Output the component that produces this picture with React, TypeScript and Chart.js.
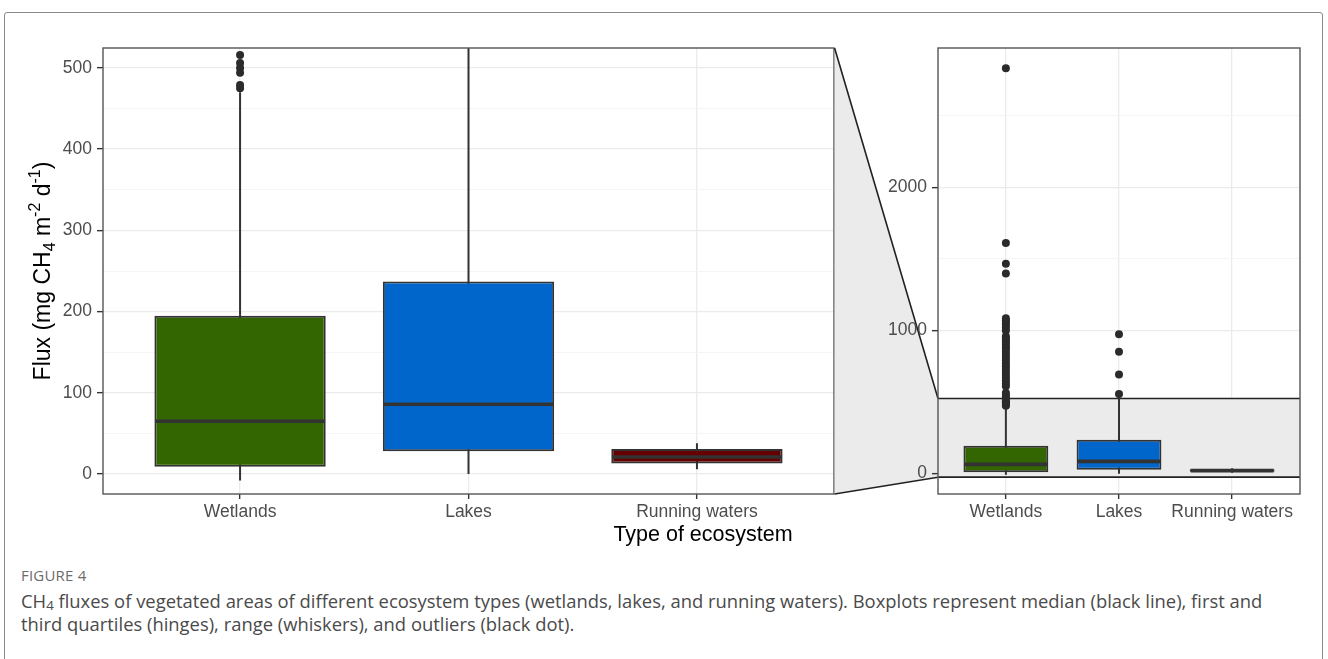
import React, { useEffect, useRef } from 'react';
import { Chart, registerables } from 'chart.js';

Chart.register(...registerables);

// ---------------- data ----------------
const categories = ['Wetlands', 'Lakes', 'Running waters'];
const categoryIndex = [0, 1, 2];
const boxLower = [9, 28, 13];
const boxUpper = [195, 237, 31];
const medians = [65, 86, 21];
const whiskerLow = [-8, 0, 6];
const whiskerHigh = [470, 536, 38];
const boxColors = ['#336600', '#0066CC', '#660000'];

const wetlandOutliers = [
  475, 479, 494, 500, 506, 516, 535, 550, 565, 610, 630, 650, 670, 690, 710, 730, 750,
  770, 790, 810, 830, 850, 870, 885, 900, 915, 930, 945, 960, 1000, 1020, 1040, 1055,
  1070, 1085, 1397, 1466, 1610, 2830,
];
const lakeOutliers = [557, 693, 851, 974];
const runningOutliers: number[] = [];

const leftRange = [-24.5, 524.5];
const leftMajorTicks = [0, 100, 200, 300, 400, 500];
const leftMinorTicks = [50, 150, 250, 350, 450];
const rightRange = [-142, 2972];
const rightMajorTicks = [0, 1000, 2000];
const rightMinorTicks = [500, 1500, 2500];
const xRange = [-0.6, 2.6];

const xTitleText = 'Type of ecosystem';

const FONT = '"Liberation Sans", Arial, Helvetica, sans-serif';

// ---------------- plugin ----------------
const boxExtras = {
  id: 'boxExtras',
  beforeDraw(chart: any, _a: any, opts: any) {
    if (!opts.connector) return;
    const { ctx, chartArea, scales } = chart;
    const y = scales.y;
    const x0 = opts.connectorX;
    const yTop = y.getPixelForValue(leftRange[1]);
    const yBot = y.getPixelForValue(leftRange[0]);
    ctx.save();
    ctx.beginPath();
    ctx.moveTo(x0, chartArea.top);
    ctx.lineTo(chartArea.left, yTop);
    ctx.lineTo(chartArea.left, yBot);
    ctx.lineTo(x0, chartArea.bottom);
    ctx.closePath();
    ctx.fillStyle = '#ebebeb';
    ctx.fill();
    ctx.strokeStyle = '#222';
    ctx.lineWidth = 1.6;
    ctx.beginPath();
    ctx.moveTo(x0, chartArea.top);
    ctx.lineTo(chartArea.left, yTop);
    ctx.moveTo(x0, chartArea.bottom);
    ctx.lineTo(chartArea.left, yBot);
    ctx.stroke();
    ctx.restore();
  },
  beforeDatasetsDraw(chart: any, _a: any, opts: any) {
    const { ctx, chartArea, scales } = chart;
    const { x, y } = scales;
    ctx.save();
    ctx.beginPath();
    ctx.rect(chartArea.left, chartArea.top, chartArea.width, chartArea.height);
    ctx.clip();
    if (opts.zoomBand) {
      const yTop = y.getPixelForValue(leftRange[1]);
      const yBot = y.getPixelForValue(leftRange[0]);
      ctx.fillStyle = '#ebebeb';
      ctx.fillRect(chartArea.left, yTop, chartArea.width, yBot - yTop);
      ctx.strokeStyle = '#222';
      ctx.lineWidth = 1.6;
      ctx.beginPath();
      ctx.moveTo(chartArea.left, yTop);
      ctx.lineTo(chartArea.right, yTop);
      ctx.moveTo(chartArea.left, yBot);
      ctx.lineTo(chartArea.right, yBot);
      ctx.stroke();
    }
    ctx.strokeStyle = '#333';
    ctx.lineWidth = 2;
    categoryIndex.forEach((c, i) => {
      const px = x.getPixelForValue(c);
      ctx.beginPath();
      ctx.moveTo(px, y.getPixelForValue(whiskerLow[i]));
      ctx.lineTo(px, y.getPixelForValue(whiskerHigh[i]));
      ctx.stroke();
    });
    ctx.restore();
  },
  afterDatasetsDraw(chart: any) {
    const { ctx, chartArea, scales } = chart;
    const { y } = scales;
    const meta = chart.getDatasetMeta(1);
    ctx.save();
    ctx.beginPath();
    ctx.rect(chartArea.left, chartArea.top, chartArea.width, chartArea.height);
    ctx.clip();
    ctx.strokeStyle = '#333';
    ctx.lineWidth = 3.6;
    meta.data.forEach((bar: any, i: number) => {
      const half = bar.width / 2 - 1;
      const py = y.getPixelForValue(medians[i]);
      ctx.beginPath();
      ctx.moveTo(bar.x - half, py);
      ctx.lineTo(bar.x + half, py);
      ctx.stroke();
    });
    ctx.restore();
    ctx.save();
    ctx.strokeStyle = '#555';
    ctx.lineWidth = 1.4;
    ctx.strokeRect(chartArea.left, chartArea.top, chartArea.width, chartArea.height);
    ctx.restore();
  },
  afterDraw(chart: any, _a: any, opts: any) {
    const { ctx, chartArea } = chart;
    if (opts.xTitle) {
      ctx.save();
      ctx.font = `21.5px ${FONT}`;
      ctx.fillStyle = '#000';
      ctx.textAlign = 'center';
      ctx.textBaseline = 'alphabetic';
      ctx.fillText(xTitleText, opts.xTitleX, opts.xTitleY);
      ctx.restore();
    }
    if (!opts.yTitle) return;
    const big = 23;
    const small = 16;
    const parts = [
      { t: 'Flux (mg CH', s: big, dy: 0 },
      { t: '4', s: small, dy: 5 },
      { t: ' m', s: big, dy: 0 },
      { t: '-2', s: small, dy: -10 },
      { t: ' d', s: big, dy: 0 },
      { t: '-1', s: small, dy: -10 },
      { t: ')', s: big, dy: 0 },
    ];
    ctx.save();
    let total = 0;
    parts.forEach((p) => {
      ctx.font = `${p.s}px ${FONT}`;
      total += ctx.measureText(p.t).width;
    });
    ctx.translate(opts.yTitleX, (chartArea.top + chartArea.bottom) / 2);
    ctx.rotate(-Math.PI / 2);
    ctx.fillStyle = '#000';
    ctx.textBaseline = 'alphabetic';
    ctx.textAlign = 'left';
    let cx = -total / 2;
    parts.forEach((p) => {
      ctx.font = `${p.s}px ${FONT}`;
      ctx.fillText(p.t, cx, p.dy);
      cx += ctx.measureText(p.t).width;
    });
    ctx.restore();
  },
};

// ---------------- chart builder ----------------
function buildConfig(opts: {
  range: number[];
  major: number[];
  minor: number[];
  yAxisWidth: number;
  padRight: number;
  plugin: any;
}) {
  const allTicks = [...opts.major, ...opts.minor].sort((a, b) => a - b);
  const isMajor = (v: number) => opts.major.includes(v);
  const outliers = [
    ...wetlandOutliers.map((v) => ({ x: categoryIndex[0], y: v })),
    ...lakeOutliers.map((v) => ({ x: categoryIndex[1], y: v })),
    ...runningOutliers.map((v) => ({ x: categoryIndex[2], y: v })),
  ];
  return {
    type: 'bar',
    data: {
      datasets: [
        {
          type: 'line',
          data: outliers,
          showLine: false,
          pointRadius: 4,
          pointHoverRadius: 4,
          pointBackgroundColor: '#2b2b2b',
          pointBorderColor: '#2b2b2b',
          pointBorderWidth: 0,
        },
        {
          type: 'bar',
          data: categoryIndex.map((c, i) => ({ x: c, y: [boxLower[i], boxUpper[i]] })),
          backgroundColor: boxColors,
          borderColor: '#333',
          borderWidth: 2,
          borderSkipped: false,
          barPercentage: 0.75,
          categoryPercentage: 1,
        },
      ],
    },
    options: {
      responsive: false,
      animation: false,
      devicePixelRatio: 1,
      layout: { padding: { top: 48, right: opts.padRight, left: 0, bottom: 0 } },
      plugins: {
        legend: { display: false },
        tooltip: { enabled: false },
        boxExtras: opts.plugin,
      },
      scales: {
        x: {
          type: 'linear',
          min: xRange[0],
          max: xRange[1],
          offset: false,
          afterBuildTicks: (s: any) => {
            s.ticks = categoryIndex.map((v) => ({ value: v }));
          },
          afterFit: (s: any) => {
            s.height = 66;
          },
          ticks: {
            callback: (v: number) => categories[Math.round(v)] ?? '',
            color: '#4d4d4d',
            font: { family: FONT, size: 17.5 },
            padding: 3,
            maxRotation: 0,
            autoSkip: false,
          },
          grid: {
            offset: false,
            color: '#ebebeb',
            lineWidth: 1.3,
            tickColor: '#333',
            tickLength: 5,
            tickWidth: 1.4,
          },
          border: { display: false },
        },
        y: {
          type: 'linear',
          min: opts.range[0],
          max: opts.range[1],
          afterBuildTicks: (s: any) => {
            s.ticks = allTicks.map((v) => ({ value: v }));
          },
          afterFit: (s: any) => {
            s.width = opts.yAxisWidth;
          },
          ticks: {
            callback: (v: number) => (isMajor(v) ? String(v) : ''),
            color: '#4d4d4d',
            font: { family: FONT, size: 17.5 },
            padding: 5,
          },
          grid: {
            color: (c: any) => (c.tick && isMajor(c.tick.value) ? '#ebebeb' : '#f4f4f4'),
            lineWidth: (c: any) => (c.tick && isMajor(c.tick.value) ? 1.3 : 0.9),
            tickColor: (c: any) => (c.tick && isMajor(c.tick.value) ? '#333' : 'rgba(0,0,0,0)'),
            tickLength: 6,
            tickWidth: 1.4,
          },
          border: { display: false },
        },
      },
    },
    plugins: [boxExtras],
  };
}

function Panel(props: { left: number; width: number; config: any }) {
  const ref = useRef<HTMLCanvasElement>(null);
  useEffect(() => {
    if (!ref.current) return;
    const chart = new Chart(ref.current, props.config);
    return () => chart.destroy();
  }, []);
  return (
    <canvas
      ref={ref}
      width={props.width}
      height={560}
      style={{ position: 'absolute', left: props.left, top: 0, width: props.width, height: 560 }}
    />
  );
}

export default function App() {
  const leftConfig = buildConfig({
    range: leftRange,
    major: leftMajorTicks,
    minor: leftMinorTicks,
    yAxisWidth: 103,
    padRight: 6,
    plugin: { yTitle: true, yTitleX: 50, xTitle: true, xTitleX: 703, xTitleY: 541 },
  });
  const rightConfig = buildConfig({
    range: rightRange,
    major: rightMajorTicks,
    minor: rightMinorTicks,
    yAxisWidth: 118,
    padRight: 28,
    plugin: { zoomBand: true, connector: true, connectorX: 14.6 },
  });
  return (
    <div
      style={{
        position: 'absolute',
        left: 0,
        top: 0,
        width: 1328,
        height: 659,
        overflow: 'hidden',
        background: '#fff',
      }}
    >
      <div
        style={{
          position: 'absolute',
          left: 4,
          top: 12,
          width: 1319,
          height: 700,
          border: '1.5px solid #8a8a8a',
          borderRadius: 3,
          boxSizing: 'border-box',
        }}
      />
      <Panel left={0} width={840} config={leftConfig} />
      <Panel left={820} width={508} config={rightConfig} />
      <div
        style={{
          position: 'absolute',
          left: 21,
          top: 566,
          fontFamily: '"Open Sans", sans-serif',
          fontSize: 15,
          lineHeight: '18px',
          color: '#6b6b6b',
          letterSpacing: 0.2,
        }}
      >
        FIGURE 4
      </div>
      <div
        style={{
          position: 'absolute',
          left: 21,
          top: 589,
          width: 1300,
          fontFamily: '"Open Sans", sans-serif',
          fontSize: 18.4,
          lineHeight: '23px',
          color: '#4a4a4a',
          whiteSpace: 'nowrap',
        }}
      >
        CH<sub style={{ fontSize: '0.72em', verticalAlign: '-0.15em', lineHeight: 0 }}>4</sub> fluxes of
        vegetated areas of different ecosystem types (wetlands, lakes, and running waters). Boxplots
        represent median (black line), first and
        <br />
        third quartiles (hinges), range (whiskers), and outliers (black dot).
      </div>
    </div>
  );
}
